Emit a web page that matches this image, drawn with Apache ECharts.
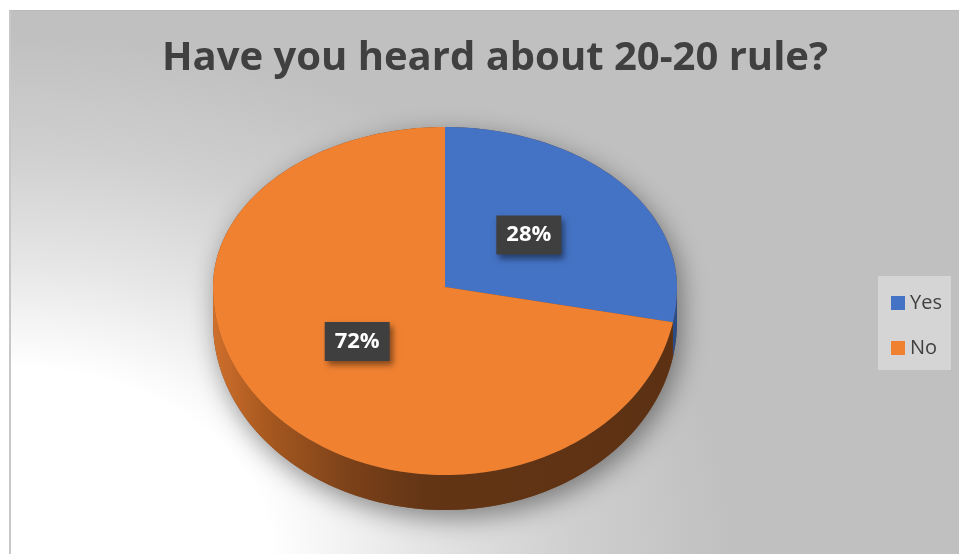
<!DOCTYPE html>
<html>
<head>
<meta charset="utf-8">
<script src="https://cdn.jsdelivr.net/npm/echarts@6/dist/echarts.min.js"></script>
<style>
  html, body { margin: 0; padding: 0; background: #ffffff; }
  #frame {
    position: absolute; left: 9px; top: 10px; width: 948px; height: 544px;
    border-left: 2px solid #c8c8c8; border-top: 1px solid #b9b9b9;
    background: radial-gradient(ellipse 720px 520px at 0px 544px,
      #ffffff 0%, #ffffff 36%, #e6e6e6 56%, #cfcfcf 78%, #c0c0c0 100%);
  }
  #chart { position: absolute; left: 0; top: 0; width: 959px; height: 554px; }
</style>
</head>
<body>
<div id="frame"></div>
<div id="chart"></div>
<script>
// Survey answers
const categories = ['Yes', 'No'];
const shares = [28, 72];
const labelTexts = ['28%', '72%'];

// Slice colours: top face and side wall
const topColors = ['#4472C4', '#F08131'];
const sideColors = ['#2c4c86', null];

// Tilted-disc geometry (pixels)
const CX = 445, CY = 287, RX = 232, RY_BACK = 160, RY_FRONT = 188, DEPTH = 35;

function pt(deg, dy) {
  const t = deg * Math.PI / 180;
  const s = Math.sin(t);
  const ry = s > 0 ? RY_BACK : RY_FRONT;
  return [CX + RX * Math.cos(t), CY - ry * s + (dy || 0)];
}

function arc(from, to, dy) {
  const n = Math.max(2, Math.ceil(Math.abs(to - from) / 1.5));
  const out = [];
  for (let k = 0; k <= n; k++) out.push(pt(from + (to - from) * k / n, dy));
  return out;
}

const total = shares.reduce((a, b) => a + b, 0);

function renderSlice(params, api) {
  const i = params.seriesIndex;
  const value = api.value(0);
  let before = 0;
  for (let k = 0; k < i; k++) before += shares[k];
  const startDeg = 90 - before / total * 360;
  const endDeg = startDeg - value / total * 360;

  const children = [];

  // soft drop shadow under the whole disc, drawn once
  if (i === 0) {
    const outline = arc(0, 180, 0).concat(arc(180, 360, DEPTH));
    children.push({
      type: 'polygon', z2: -5,
      shape: { points: outline },
      style: {
        fill: '#7a4a2a',
        shadowBlur: 26, shadowColor: 'rgba(0,0,0,0.42)',
        shadowOffsetX: 4, shadowOffsetY: 8
      }
    });
  }

  // side wall on the front half of the disc
  const s1 = Math.min(startDeg, 0);
  const e1 = Math.max(endDeg, -180);
  if (s1 > e1) {
    const pts = arc(s1, e1, 0).concat(arc(e1, s1, DEPTH));
    const fill = sideColors[i] || {
      type: 'linear', x: 0, y: 0, x2: 1, y2: 0,
      colorStops: [
        { offset: 0, color: '#cf6f2c' },
        { offset: 0.12, color: '#a6581f' },
        { offset: 0.3, color: '#7b4119' },
        { offset: 0.46, color: '#633515' },
        { offset: 1, color: '#5c3113' }
      ]
    };
    children.push({ type: 'polygon', z2: 0, shape: { points: pts }, style: { fill: fill } });
  }

  // top face
  const face = [[CX, CY]].concat(arc(startDeg, endDeg, 0));
  children.push({ type: 'polygon', z2: 10, shape: { points: face }, style: { fill: topColors[i] } });

  // value label
  const mid = (startDeg + endDeg) / 2;
  const t = mid * Math.PI / 180;
  const s = Math.sin(t);
  const k = 0.48;
  const lx = CX + k * RX * Math.cos(t);
  const ly = CY - k * (s > 0 ? RY_BACK : RY_FRONT) * s;
  children.push({
    type: 'text', z2: 30,
    x: lx - 2, y: ly - 3,
    style: {
      text: labelTexts[i],
      fill: '#ffffff',
      font: 'bold 22px "Open Sans", sans-serif',
      align: 'center', verticalAlign: 'middle',
      backgroundColor: '#3f3f3f',
      padding: [9, 10, 8, 10],
      shadowBlur: 6, shadowColor: 'rgba(0,0,0,0.45)',
      shadowOffsetX: 3, shadowOffsetY: 4
    }
  });

  return { type: 'group', children: children };
}

const chart = echarts.init(document.getElementById('chart'), null, { renderer: 'canvas' });

chart.setOption({
  backgroundColor: 'transparent',
  animation: false,
  title: {
    text: 'Have you heard about 20-20 rule?',
    left: 490, top: 34, textAlign: 'center',
    textStyle: { fontFamily: '"Open Sans", sans-serif', fontWeight: 'bold', fontSize: 40, color: '#404040' }
  },
  legend: {
    data: categories,
    orient: 'vertical',
    left: 878, top: 276,
    icon: 'rect',
    itemWidth: 14, itemHeight: 14,
    itemGap: 23,
    padding: [16, 9, 11, 13],
    backgroundColor: '#d5d5d5',
    selectedMode: false,
    textStyle: { fontFamily: '"Open Sans", sans-serif', fontSize: 20, color: '#404040', lineHeight: 22 }
  },
  series: categories.map((name, i) => ({
    type: 'custom',
    name: name,
    coordinateSystem: 'none',
    silent: true,
    itemStyle: { color: topColors[i] },
    data: [[shares[i]]],
    renderItem: renderSlice
  }))
});
</script>
</body>
</html>
